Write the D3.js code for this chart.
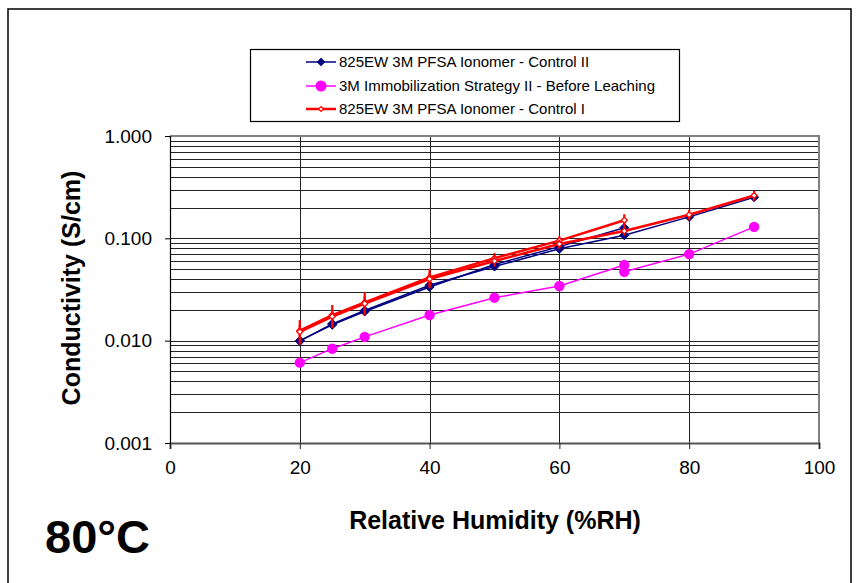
<!DOCTYPE html>
<html><head><meta charset="utf-8">
<script src="https://cdn.jsdelivr.net/npm/d3@7"></script>
<style>body{margin:0;background:#fff}svg{display:block}text{font-family:"Liberation Sans",Arial,sans-serif}</style>
</head><body><svg id="c" width="856" height="583"></svg>
<script>
// ---- data ----
const rhA = [20, 25, 30, 40, 50, 60, 70];
const rhB = [20, 25, 30, 40, 50, 60, 70, 80, 90];
const control2A = [0.0100, 0.0143, 0.0193, 0.0335, 0.0555, 0.0830, 0.1270];
const control2B = [0.0099, 0.0146, 0.0197, 0.0348, 0.0530, 0.0790, 0.1070, 0.1620, 0.2520];
const control1A = [0.0125, 0.0178, 0.0236, 0.0415, 0.0640, 0.0950, 0.1500];
const control1Aerr = [0.0034, 0.0045, 0.0060, 0.0090, 0.0080, 0.0100, 0.0220];
const control1B = [0.0122, 0.0172, 0.0230, 0.0400, 0.0600, 0.0880, 0.1180, 0.1700, 0.2620];
const control1Berr = [0.0020, 0.0030, 0.0040, 0.0060, 0.0070, 0.0090, 0.0120, 0.0200, 0.0300];
const rhP1 = [20, 25, 30, 40, 50, 60, 70];
const immob1 = [0.0061, 0.00835, 0.0109, 0.0178, 0.0263, 0.0342, 0.0548];
const rhP2 = [70, 80, 90];
const immob2 = [0.0471, 0.0701, 0.1295];
const xTicks = [0, 20, 40, 60, 80, 100];
const yTicks = [0.001, 0.01, 0.1, 1];
const legendLabels = ["825EW 3M PFSA Ionomer - Control II", "3M Immobilization Strategy II - Before Leaching", "825EW 3M PFSA Ionomer - Control I"];

const svg = d3.select("#c");
const L = 170, R = 819, T = 136, B = 443;
const x = d3.scaleLinear().domain([0, 100]).range([L, R]);
const y = d3.scaleLog().domain([0.001, 1]).range([B, T]);

// outer border
svg.append("rect").attr("x", 8).attr("y", 9).attr("width", 843).attr("height", 600)
  .attr("fill", "none").attr("stroke", "#000").attr("stroke-width", 1.5);

// horizontal grid (major + minor)
const gridVals = [];
for (let e = -3; e < 0; e++) for (let m = 1; m <= 9; m++) gridVals.push(m * Math.pow(10, e));
gridVals.push(1);
svg.append("g").selectAll("line").data(gridVals).join("line")
  .attr("x1", L).attr("x2", R).attr("y1", d => Math.round(y(d)) + 0.5).attr("y2", d => Math.round(y(d)) + 0.5)
  .attr("stroke", "#222").attr("stroke-width", 1);
// vertical grid
svg.append("g").selectAll("line").data([20, 40, 60, 80]).join("line")
  .attr("x1", d => Math.round(x(d)) + 0.5).attr("x2", d => Math.round(x(d)) + 0.5)
  .attr("y1", T).attr("y2", B)
  .attr("stroke", "#222").attr("stroke-width", 1);

// plot frame top/right
svg.append("path").attr("d", `M${L},${T} H${R} V${B}`).attr("fill", "none").attr("stroke", "#808080").attr("stroke-width", 2);

// axes
const xAxis = svg.append("g").attr("transform", `translate(0,${B})`)
  .call(d3.axisBottom(x).tickValues(xTicks).tickSize(6).tickPadding(12).tickFormat(d3.format("d")));
xAxis.select(".domain").attr("stroke", "#555").attr("stroke-width", 2);
xAxis.selectAll(".tick line").attr("stroke", "#222");
xAxis.selectAll("text").attr("font-size", 19).attr("fill", "#000").attr("font-family", "Liberation Sans, Arial, sans-serif");

const yAxis = svg.append("g").attr("transform", `translate(${L},0)`)
  .call(d3.axisLeft(y).tickValues(yTicks).tickSize(5).tickPadding(13).tickFormat(d3.format(".3f")));
yAxis.select(".domain").attr("stroke", "#000").attr("stroke-width", 1.2);
yAxis.selectAll(".tick line").attr("stroke", "#000");
yAxis.selectAll("text").attr("font-size", 19).attr("fill", "#000").attr("font-family", "Liberation Sans, Arial, sans-serif");

// axis titles
svg.append("text").attr("x", 495).attr("y", 529).attr("text-anchor", "middle")
  .attr("font-size", 25).attr("font-weight", "bold").text("Relative Humidity (%RH)");
svg.append("text").attr("transform", "translate(80,288) rotate(-90)").attr("text-anchor", "middle")
  .attr("font-size", 25).attr("font-weight", "bold").text("Conductivity (S/cm)");
svg.append("text").attr("x", 45).attr("y", 553)
  .attr("font-size", 47).attr("font-weight", "bold").text("80°C");

const line = d3.line().x(d => x(d[0])).y(d => y(d[1]));
const dia = s => `M0,${-s}L${s},0L0,${s}L${-s},0Z`;

function drawSeries(xs, ys, opt) {
  const pts = xs.map((v, i) => [v, ys[i]]);
  const g = svg.append("g");
  g.append("path").datum(pts).attr("d", line).attr("fill", "none")
    .attr("stroke", opt.color).attr("stroke-width", opt.lw);
  if (opt.err) {
    g.selectAll("line.e").data(pts).join("line")
      .attr("x1", d => x(d[0])).attr("x2", d => x(d[0]))
      .attr("y1", (d, i) => y(d[1] + opt.err[i])).attr("y2", (d, i) => y(Math.max(d[1] - opt.err[i], 1e-4)))
      .attr("stroke", opt.color).attr("stroke-width", 2.2);
  }
  if (opt.marker === "diamond") {
    g.selectAll("path.m").data(pts).join("path")
      .attr("transform", d => `translate(${x(d[0])},${y(d[1])})`)
      .attr("d", dia(opt.ms)).attr("fill", opt.fill).attr("stroke", opt.color).attr("stroke-width", opt.msw || 1);
  } else {
    g.selectAll("circle").data(pts).join("circle")
      .attr("cx", d => x(d[0])).attr("cy", d => y(d[1])).attr("r", opt.r).attr("fill", opt.color);
  }
}

const navy = "#000080", pink = "#FF00FF", red = "#FF0000";
drawSeries(rhP1, immob1, {color: pink, lw: 1.5, marker: "circle", r: 5.2});
drawSeries(rhP2, immob2, {color: pink, lw: 1.5, marker: "circle", r: 5.2});
drawSeries(rhA, control2A, {color: navy, lw: 1.5, marker: "diamond", ms: 4.5, fill: navy});
drawSeries(rhB, control2B, {color: navy, lw: 1.5, marker: "diamond", ms: 4.5, fill: navy});
drawSeries(rhA, control1A, {color: red, lw: 2.5, marker: "diamond", ms: 3, fill: "#fff", msw: 1.3, err: control1Aerr});
drawSeries(rhB, control1B, {color: red, lw: 2.5, marker: "diamond", ms: 3, fill: "#fff", msw: 1.3, err: control1Berr});

// legend
const lg = svg.append("g");
lg.append("rect").attr("x", 250.5).attr("y", 49.5).attr("width", 429).attr("height", 72)
  .attr("fill", "#fff").attr("stroke", "#000").attr("stroke-width", 1.2);
const rowsY = [62, 86, 109];
const styles = [
  {color: navy, lw: 1.5, type: "diamond", ms: 3.5, fill: navy},
  {color: pink, lw: 1.5, type: "circle", r: 5.5},
  {color: red, lw: 2.5, type: "diamond", ms: 2.5, fill: "#fff"}
];
legendLabels.forEach((lab, i) => {
  const st = styles[i], yy = rowsY[i];
  lg.append("line").attr("x1", 306).attr("x2", 336).attr("y1", yy).attr("y2", yy)
    .attr("stroke", st.color).attr("stroke-width", st.lw);
  if (st.type === "circle") lg.append("circle").attr("cx", 321).attr("cy", yy).attr("r", st.r).attr("fill", st.color);
  else lg.append("path").attr("transform", `translate(321,${yy})`).attr("d", dia(st.ms))
    .attr("fill", st.fill).attr("stroke", st.color).attr("stroke-width", 1.2);
  lg.append("text").attr("x", 339).attr("y", yy + 5).attr("font-size", 15).text(lab);
});
</script></body></html>
